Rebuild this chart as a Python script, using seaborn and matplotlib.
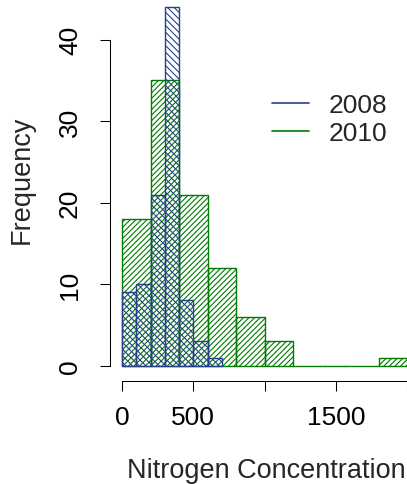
import matplotlib; matplotlib.use('Agg')
import matplotlib.pyplot as plt
from matplotlib.lines import Line2D
import numpy as np
import pandas as pd
import seaborn as sns

sns.set_theme(style='white')
plt.rcParams['font.family'] = ['Liberation Sans', 'DejaVu Sans']
plt.rcParams['hatch.linewidth'] = 0.8

# ── data ──────────────────────────────────────────────────────────────
edges_2010  = [0, 200, 400, 600, 800, 1000, 1200, 1400, 1600, 1800, 2000]
counts_2010 = [18, 35, 21, 12, 6, 3, 0, 0, 0, 1]
edges_2008  = [0, 100, 200, 300, 400, 500, 600, 700]
counts_2008 = [9, 10, 21, 44, 8, 3, 1]
col_2010 = '#007A00'
col_2008 = '#27408B'

def binned(edges, counts):
    e = np.asarray(edges, dtype=float)
    return pd.DataFrame({'mid': (e[:-1] + e[1:]) / 2, 'n': counts})

fig = plt.figure(figsize=(4.07, 4.85), dpi=100)
ax = fig.add_axes([110/407, 103/485, 297/407, 382/485])

# 2010 first, 2008 drawn over it (like hist(..., add=TRUE))
for edges, counts, col, hatch in [(edges_2010, counts_2010, col_2010, '//////'),
                                  (edges_2008, counts_2008, col_2008, '\\\\\\\\\\')]:
    n0 = len(ax.patches)
    sns.histplot(data=binned(edges, counts), x='mid', weights='n', bins=edges,
                 ax=ax, color=col, linewidth=1.0)
    for p in ax.patches[n0:]:
        p.set_facecolor('none')
        p.set_edgecolor(col)
        p.set_hatch(hatch)
        p.set_linewidth(1.0)

ax.set_xlim(-85, 1976)
ax.set_ylim(-1.88, 45.0)
ax.set_xticks([0, 500, 1000, 1500, 2000])
ax.set_xticklabels(['0', '500', '', '1500', ''])
ax.set_yticks([0, 10, 20, 30, 40])
ax.set_yticklabels(['0', '10', '20', '30', '40'], rotation=90, va='center')
ax.tick_params(axis='both', length=7.2, width=0.75, color='black',
               labelsize=19, labelcolor='black', bottom=True, left=True)
ax.tick_params(axis='x', pad=10)
ax.tick_params(axis='y', pad=13)
for s in ['top', 'right']:
    ax.spines[s].set_visible(False)
for s in ['left', 'bottom']:
    ax.spines[s].set_color('black')
    ax.spines[s].set_linewidth(0.75)
ax.spines['left'].set_bounds(0, 40)
ax.spines['bottom'].set_bounds(0, 2000)

ax.set_xlabel('Nitrogen Concentration', fontsize=19.5, va='center', ha='center')
ax.xaxis.set_label_coords(0.525, -0.232)
ax.set_ylabel('Frequency', fontsize=19.5, va='center', ha='center')
ax.yaxis.set_label_coords(-0.296, 0.53)

handles = [Line2D([], [], color=col_2008, lw=1.2), Line2D([], [], color=col_2010, lw=1.2)]
ax.legend(handles, ['2008', '2010'], frameon=False, fontsize=19,
          loc='upper left', bbox_to_anchor=(0.545, 0.754), handlelength=1.4,
          handletextpad=0.76, labelspacing=0.15, borderpad=0, borderaxespad=0)

fig.savefig('out.png', dpi=100)
